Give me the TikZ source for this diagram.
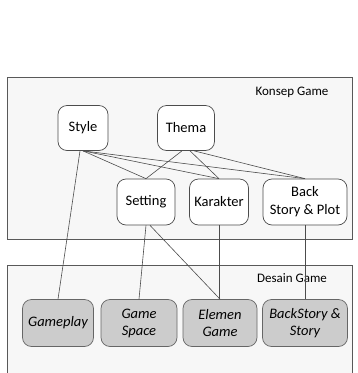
\documentclass[tikz,border=0pt]{standalone}
\usepackage{fontspec}
\setmainfont{Carlito}
\begin{document}
\begin{tikzpicture}[x=1pt,y=-1pt,
  frame/.style={draw=black!65, line width=0.8pt, fill=black!3},
  topbox/.style={draw=black!70, line width=0.7pt, rounded corners=9pt, fill=white, align=center, inner sep=1pt, font=\fontsize{14.5}{18}\selectfont, minimum height=46pt},
  botbox/.style={draw=black!60, line width=0.7pt, rounded corners=9pt, fill=black!20, align=center, inner sep=1pt, font=\fontsize{14.5}{17}\selectfont\itshape, minimum height=47pt},
  conn/.style={draw=black!70, line width=0.6pt},
  lbl/.style={font=\fontsize{13}{15}\selectfont, inner sep=0pt}
]
\useasboundingbox (0,0) rectangle (357,373);
\fill[white] (0,0) rectangle (357,373);
% frames
\path[frame] (7,77) rectangle (352,239);
\path[frame] (7,385) -- (7,265) -- (352,265) -- (352,385);
\node[lbl] (konsep) at (292,92) {Konsep Game};
\node[lbl] (desain) at (292,278) {Desain Game};
% top nodes
\node[topbox, minimum width=50pt, minimum height=45pt] (style) at (83,128) {Style};
\node[topbox, minimum width=57pt, minimum height=45pt] (thema) at (186,128) {Thema};
\node[topbox, minimum width=58pt] (setting) at (146,202) {Setting};
\node[topbox, minimum width=59pt] (karakter) at (219,202) {Karakter};
\node[topbox, minimum width=84pt] (back) at (305,202) {Back\\Story \& Plot};
% bottom nodes
\node[botbox, minimum width=71pt] (gameplay) at (58,323) {Gameplay};
\node[botbox, minimum width=76pt] (space) at (139,323) {Game\\Space};
\node[botbox, minimum width=74pt] (elemen) at (220,323) {Elemen\\Game};
\node[botbox, minimum width=85pt] (story) at (305,323) {BackStory \&\\Story};
% connectors
\draw[conn] (style.south) -- (setting.north);
\draw[conn] (style.south) -- (karakter.north);
\draw[conn] (style.south) -- (back.north);
\draw[conn] ([xshift=-4pt]thema.south) -- (setting.north);
\draw[conn] ([xshift=4pt]thema.south) -- (karakter.north);
\draw[conn] ([xshift=8pt]thema.south) -- (back.north);
\draw[conn] ([xshift=-3pt]style.south) -- (gameplay.north);
\draw[conn] (setting.south) -- (space.north);
\draw[conn] ([xshift=4pt]setting.south) -- (elemen.north);
\draw[conn] (karakter.south) -- (karakter.south |- elemen.north);
\draw[conn] (back.south) -- (story.north);
\end{tikzpicture}
\end{document}
